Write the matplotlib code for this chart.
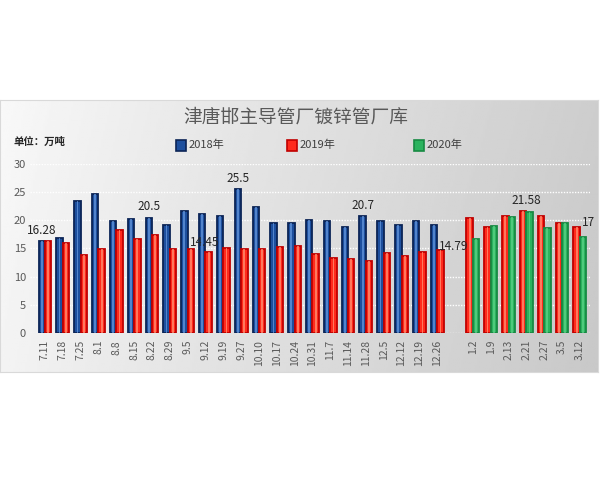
import numpy as np
import matplotlib
matplotlib.use("Agg")
import matplotlib.pyplot as plt
from matplotlib.patches import Rectangle

plt.rcParams["font.family"] = ["Noto Sans CJK SC", "DejaVu Sans"]

# left block: 2018 vs 2019
cats_left = ["7.11", "7.18", "7.25", "8.1", "8.8", "8.15", "8.22", "8.29", "9.5",
             "9.12", "9.19", "9.27", "10.10", "10.17", "10.24", "10.31", "11.7",
             "11.14", "11.28", "12.5", "12.12", "12.19", "12.26"]
v2018 = [16.28, 16.9, 23.5, 24.6, 19.9, 20.3, 20.5, 19.1, 21.7, 21.1, 20.8, 25.5,
         22.3, 19.5, 19.6, 20.0, 19.9, 18.8, 20.7, 19.8, 19.1, 19.8, 19.1]
v2019_left = [16.4, 16.0, 13.9, 14.9, 18.2, 16.7, 17.4, 14.9, 14.9, 14.45, 15.0, 14.9,
              14.9, 15.3, 15.4, 14.0, 13.4, 13.2, 12.85, 14.2, 13.7, 14.3, 14.79]

# right block: 2019 vs 2020
cats_right = ["1.2", "1.9", "2.13", "2.21", "2.27", "3.5", "3.12"]
v2019_right = [20.35, 18.8, 20.7, 21.58, 20.7, 19.6, 18.8]
v2020 = [16.6, 19.0, 20.6, 21.4, 18.6, 19.5, 17]

yticks = [0, 5, 10, 15, 20, 25, 30]

BLUE = ("#1d4f9e", "#0b2456", "#6a9be0")
RED = ("#ff2a1c", "#c00000", "#ff9a7a")
GREEN = ("#2bb35e", "#178a43", "#5fd48a")

fig = plt.figure(figsize=(6, 4.8), dpi=100)

# grey gradient panel behind the chart
bg = fig.add_axes([0.0, 1 - 372 / 480, 598 / 600, (372 - 100) / 480])
gx = np.linspace(0, 1, 300)
gy = np.linspace(0, 1, 100)[:, None]
grad = 0.975 - 0.17 * gx[None, :] ** 0.9 - 0.02 * gy
bg.imshow(grad, cmap="gray", vmin=0, vmax=1, aspect="auto", extent=[0, 1, 0, 1])
bg.set_xticks([])
bg.set_yticks([])
for s in bg.spines.values():
    s.set_color("#d9d9d9")
    s.set_linewidth(0.8)

ax = fig.add_axes([30 / 600, (480 - 333) / 480, 560 / 600, (333 - 164) / 480])
ax.set_facecolor("none")

x_left = np.arange(len(cats_left))
x_right = np.arange(len(cats_right)) + len(cats_left) + 1
off = 0.18
w = 0.36


def draw_bars(xs, vals, style):
    face, edge, hi = style
    ax.bar(xs, vals, width=w, color=face, edgecolor=edge, linewidth=1.3, zorder=3)
    ax.bar(xs, vals, width=w * 0.28, color=hi, linewidth=0, alpha=0.7, zorder=4)


draw_bars(x_left - off, v2018, BLUE)
draw_bars(x_left + off, v2019_left, RED)
draw_bars(x_right - off, v2019_right, RED)
draw_bars(x_right + off, v2020, GREEN)

lab = dict(fontsize=8.5, color="#262626", textcoords="offset points")
for i in [0, 6, 11, 18]:
    ax.annotate(f"{v2018[i]:g}", (x_left[i] - off, v2018[i]), xytext=(0, 3),
                ha="center", va="bottom", **lab)
ax.annotate(f"{v2019_left[9]:g}", (x_left[9] + off, v2019_left[9]), xytext=(-3, 2),
            ha="center", va="bottom", **lab)
ax.annotate(f"{v2019_left[22]:g}", (x_left[22] + off, v2019_left[22]), xytext=(-1, 2),
            ha="left", va="center", **lab)
ax.annotate(f"{v2019_right[3]:g}", (x_right[3], v2019_right[3]), xytext=(0, 3),
            ha="center", va="bottom", **lab)
ax.annotate(f"{v2020[6]:g}", (x_right[6] + off, v2020[6]), xytext=(4, 6),
            ha="center", va="bottom", **lab)

ax.set_xlim(-0.84, 30.57)
ax.set_ylim(0, 30)
ax.set_yticks(yticks)
ax.set_xticks(list(x_left) + list(x_right))
ax.set_xticklabels(cats_left + cats_right, rotation=90, fontsize=7.5, color="#595959")
ax.tick_params(axis="y", labelsize=8, colors="#595959", length=0, pad=3)
ax.tick_params(axis="x", length=0, pad=5)
ax.yaxis.grid(True, color="white", linestyle=(0, (1, 1)), linewidth=1.0, zorder=0)
ax.set_axisbelow(True)
for s in ax.spines.values():
    s.set_visible(False)

fig.text(296 / 600, 1 - 117 / 480, "津唐邯主导管厂镀锌管厂库", fontsize=13.5,
         color="#595959", ha="center", va="center")
fig.text(13 / 600, 1 - 142 / 480, "单位：万吨", fontsize=7.5, fontweight="bold",
         color="#262626", ha="left", va="center")

# legend drawn by hand
legend_items = [("2018年", BLUE, 176), ("2019年", RED, 287), ("2020年", GREEN, 414)]
for name, (face, edge, hi), px in legend_items:
    fig.patches.append(Rectangle((px / 600, 1 - 151 / 480), 10 / 600, 11 / 480,
                                 transform=fig.transFigure, facecolor=face,
                                 edgecolor=edge, linewidth=1.2, figure=fig))
    fig.text((px + 13) / 600, 1 - 145 / 480, name, fontsize=8, color="#404040",
             ha="left", va="center")

fig.savefig("out.png", dpi=100)
